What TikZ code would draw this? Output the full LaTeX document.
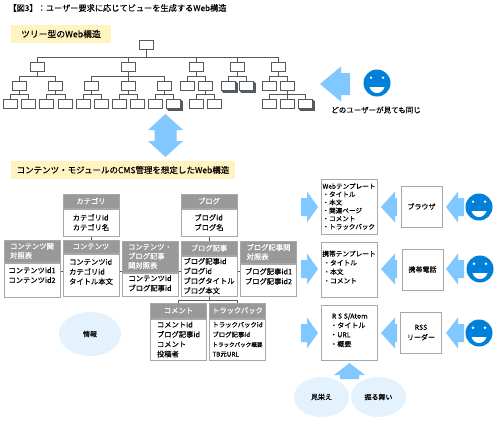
\documentclass[tikz,border=0pt]{standalone}
\usepackage{fontspec}
\setmainfont[FakeBold=0.2]{Noto Sans CJK JP}
\usetikzlibrary{calc,positioning,shapes.geometric,shadows}
\definecolor{myTreeGray}{HTML}{555A5E}
\definecolor{myFrameGray}{HTML}{A8A8A8}
\definecolor{myHeadGray}{HTML}{999999}
\definecolor{myArrowBlue}{HTML}{80C8FF}
\definecolor{mySmileBlue}{HTML}{0080D8}
\definecolor{myCloud}{HTML}{E3F2FD}
\definecolor{myBanner}{HTML}{FFF3C0}
\tikzset{
myTree/.style={
	rectangle,draw=myTreeGray,fill=white,line width=0.9pt,
	inner sep=0pt,minimum width=14pt,minimum height=9pt
}
, myStack/.style={
	myTree,
	double copy shadow={shadow xshift=1.3pt,shadow yshift=-1.3pt,draw=myTreeGray,fill=white}
}
, myBanner/.style={
	rectangle,fill=myBanner,inner sep=0pt,minimum height=18pt,
	font=\fontsize{8.5}{10}\selectfont
}
, myHead/.style={
	rectangle,draw=myFrameGray,fill=myHeadGray,line width=1pt,
	inner sep=0pt,minimum width=56pt,text=white,align=left,
	font=\fontsize{7.3}{9.3}\selectfont
}
, myBody/.style={
	rectangle,draw=myFrameGray,fill=white,line width=1pt,
	inner sep=0pt,minimum width=56pt,align=left,
	font=\fontsize{7.3}{9.8}\selectfont
}
, myPage/.style={
	rectangle,draw=myFrameGray,fill=white,line width=1pt,
	inner sep=0pt,minimum width=56pt,minimum height=55pt,align=left,
	font=\fontsize{6.6}{8.1}\selectfont
}
, myDevice/.style={
	rectangle,draw=myFrameGray,fill=white,line width=1pt,
	inner sep=0pt,minimum width=41pt,minimum height=41pt,align=center,
	font=\fontsize{7}{10}\selectfont
}
, myCloud/.style={
	ellipse,fill=myCloud,inner sep=0pt,minimum width=55pt,minimum height=40pt,
	font=\fontsize{7}{9}\selectfont
}
, myLabel/.style={font=\fontsize{7.5}{9}\selectfont}
% link
, myLink/.style={draw=myTreeGray,line width=0.9pt}
% block arrows, tip at the origin
, pics/myBlock/.style n args={4}{code={
	\fill[myArrowBlue] (0,0) -- (-#2,-#4) -- (-#2,-#3) -- (-#1,-#3) -- (-#1,#3) -- (-#2,#3) -- (-#2,#4) -- cycle;
}}
, pics/myBothBlock/.style={code={
	\fill[myArrowBlue] (0,-22) -- (17.5,-6) -- (11,-6) -- (11,5) -- (17.5,5) -- (0,21) -- (-17.5,5) -- (-11,5) -- (-11,-6) -- (-17.5,-6) -- cycle;
}}
% face
, mySmile/.pic={
	\fill[mySmileBlue] (0,0) circle (13.5);
	\fill[white] (-6,-5.3) circle (1.3) (6,-5.3) circle (1.3);
	\fill[white] (-7.5,4) .. controls (-5,12) and (5,12) .. (7.5,4) -- cycle;
}
}
\begin{document}
\begin{tikzpicture}[x=1pt,y=-1pt]
	\useasboundingbox (0,0) rectangle (498,421);
	% titles
	\node[anchor=west,font=\fontsize{8.2}{10}\selectfont] (Title) at (5,8) {【図3】：ユーザー要求に応じてビューを生成するWeb構造};
	\node[myBanner,minimum width=100pt,font=\fontsize{8.8}{10}\selectfont] (TreeBanner) at (61,34) {ツリー型のWeb構造};
	\node[myBanner,minimum width=224pt] (CmsBanner) at (123,170) {コンテンツ・モジュールのCMS管理を想定したWeb構造};

	% tree nodes
	\node[myTree] (Root) at (146.5,45) {};
	\node[myTree] (A) at (37.5,66.5) {};
	\node[myTree] (B) at (128,66.5) {};
	\node[myTree] (C) at (196,66.5) {};
	\node[myTree] (D) at (237,66.5) {};
	\node[myTree] (E) at (278,66.5) {};
	\node[myTree] (A1) at (19.5,85.5) {};
	\node[myTree] (A2) at (55.5,85.5) {};
	\node[myTree] (B1) at (91.5,85.5) {};
	\node[myTree] (B2) at (128,85.5) {};
	\node[myTree] (B3) at (164.5,85.5) {};
	\node[myTree] (C1) at (187.5,85.5) {};
	\node[myTree] (C2) at (205.5,85.5) {};
	\node[myStack] (D1) at (228,85.5) {};
	\node[myStack] (D2) at (246,85.5) {};
	\node[myTree] (E1) at (269.5,85.5) {};
	\node[myTree] (E2) at (287.5,85.5) {};
	\node[myTree] (A11) at (10,103.5) {};
	\node[myTree] (A12) at (28.5,103.5) {};
	\node[myTree] (A21) at (46,103.5) {};
	\node[myTree] (A22) at (65,103.5) {};
	\node[myTree] (B11) at (83,103.5) {};
	\node[myTree] (B12) at (101,103.5) {};
	\node[myTree] (B21) at (119,103.5) {};
	\node[myTree] (B22) at (137,103.5) {};
	\node[myTree] (B31) at (155,103.5) {};
	\node[myStack] (B32) at (173,103.5) {};
	\node[myTree] (C21) at (196,103.5) {};
	\node[myTree] (C22) at (214,103.5) {};
	\node[myTree] (E21) at (269,103.5) {};
	\node[myTree] (E22) at (287.5,103.5) {};
	\node[myStack] (E23) at (305,103.5) {};
	% tree links
	\draw[myLink] (Root.south) -- ++(0,7) -| (A.north) (Root.south) -- ++(0,7) -| (B.north) (Root.south) -- ++(0,7) -| (C.north) (Root.south) -- ++(0,7) -| (D.north) (Root.south) -- ++(0,7) -| (E.north);
	\draw[myLink] (A.south) -- ++(0,5) -| (A1.north) (A.south) -- ++(0,5) -| (A2.north);
	\draw[myLink] (B.south) -- (B2.north) (B.south) -- ++(0,5) -| (B1.north) (B.south) -- ++(0,5) -| (B3.north);
	\draw[myLink] (C.south) -- ++(0,5) -| (C1.north) (C.south) -- ++(0,5) -| (C2.north);
	\draw[myLink] (D.south) -- ++(0,5) -| (D1.north) (D.south) -- ++(0,5) -| (D2.north);
	\draw[myLink] (E.south) -- ++(0,5) -| (E1.north) (E.south) -- ++(0,5) -| (E2.north);
	\draw[myLink] (A1.south) -- ++(0,4) -| (A11.north) (A1.south) -- ++(0,4) -| (A12.north);
	\draw[myLink] (A2.south) -- ++(0,4) -| (A21.north) (A2.south) -- ++(0,4) -| (A22.north);
	\draw[myLink] (B1.south) -- ++(0,4) -| (B11.north) (B1.south) -- ++(0,4) -| (B12.north);
	\draw[myLink] (B2.south) -- ++(0,4) -| (B21.north) (B2.south) -- ++(0,4) -| (B22.north);
	\draw[myLink] (B3.south) -- ++(0,4) -| (B31.north) (B3.south) -- ++(0,4) -| (B32.north);
	\draw[myLink] (C2.south) -- ++(0,4) -| (C21.north) (C2.south) -- ++(0,4) -| (C22.north);
	\draw[myLink] (E2.south) -- ++(0,4) -| (E21.north) (E2.south) -- (E22.north) (E2.south) -- ++(0,4) -| (E23.north);

	% arrows around the tree
	\pic at (165.5,136) {myBothBlock};
	\pic[rotate=180] at (320,84) {myBlock={30}{21}{11}{17.5}};
	\pic at (377,83) {mySmile};
	\node[myLabel] (Same) at (376,110) {どのユーザーが見ても同じ};

	% tables
	\node[myHead,minimum height=14pt] (CategoryHead) at (91,201) {カテゴリ};
	\node[myBody,minimum height=27pt,below=0pt of CategoryHead] (Category) {カテゴリid\\カテゴリ名};
	\node[myHead,minimum height=14pt] (BlogHead) at (209,201) {ブログ};
	\node[myBody,minimum height=27pt,below=0pt of BlogHead] (Blog) {ブログid\\ブログ名};
	\node[myHead,minimum height=22pt] (ContentRelHead) at (32,251) {コンテンツ関\\対照表};
	\node[myBody,minimum height=34pt,below=0pt of ContentRelHead] (ContentRel) {コンテンツid1\\コンテンツid2\\};
	\node[myHead,minimum height=13pt] (ContentHead) at (91,246.5) {コンテンツ};
	\node[myBody,minimum height=42pt,below=0pt of ContentHead] (Content) {コンテンツid\\カテゴリid\\タイトル本文\\[-3pt]};
	\node[myHead,minimum height=31pt] (ContentBlogHead) at (150,256.5) {コンテンツ・\\ブログ記事\\関対照表};
	\node[myBody,minimum height=23pt,below=0pt of ContentBlogHead] (ContentBlog) {コンテンツid\\ブログ記事id\\[-7pt]};
	\node[myHead,minimum height=22pt] (ArticleRelHead) at (268.5,252) {ブログ記事関\\対照表};
	\node[myBody,minimum height=32pt,below=0pt of ArticleRelHead] (ArticleRel) {ブログ記事id1\\ブログ記事id2\\[-2pt]};
	\node[myHead,minimum height=14pt] (ArticleHead) at (209,248) {ブログ記事};
	\node[myBody,minimum height=40pt,below=0pt of ArticleHead] (Article) {ブログ記事id\\ブログid\\ブログタイトル\\ブログ本文};
	\node[myHead,minimum height=15pt] (CommentHead) at (178.5,310.5) {コメント};
	\node[myBody,minimum height=41pt,below=0pt of CommentHead] (Comment) {コメントid\\ブログ記事id\\コメント\\投稿者};
	\node[myHead,minimum height=15pt] (TrackbackHead) at (237.5,310.5) {トラックバック};
	\node[myBody,minimum height=41pt,below=0pt of TrackbackHead,font=\fontsize{6.4}{9.8}\selectfont] (Trackback) {トラックバックid\\ブログ記事id\\{\fontsize{5.6}{9.8}\selectfont トラックバック概要}\\TB元URL};
	\node[myCloud,minimum width=62pt,minimum height=44pt] (Info) at (90,334) {情報};
	% table links
	\draw[myLink] (Category.south) -- (ContentHead.north);
	\draw[myLink] (Blog.south) -- (ArticleHead.north);
	\draw[myLink] ($(ContentRel.east)+(0,-9)$) -- ($(Content.west)+(0,-4)$);
	\draw[myLink] ($(Content.east)+(0,-4)$) -- ($(ContentBlog.west)+(0,-13.5)$);
	\draw[myLink] ($(ContentBlog.east)+(0,-13.5)$) -- ($(Article.west)+(0,-5)$);
	\draw[myLink] ($(Article.east)+(0,-5)$) -- ($(ArticleRel.west)+(0,-9)$);
	\draw[myLink] (Article.south) -- ++(0,4) -| (CommentHead.north) (Article.south) -- ++(0,4) -| (TrackbackHead.north);

	% templates
	\node[myPage] (WebPage) at (349,206.5) {Webテンプレート\\ ・タイトル\\ ・本文\\ ・関連ページ\\ ・コメント\\ ・トラックバック};
	\node[myPage,font=\fontsize{6.7}{9}\selectfont] (MobilePage) at (349,269.5) {携帯テンプレート\\ \,・タイトル\\ \,・本文\\ \,・コメント\\[-4pt]};
	\node[myPage,font=\fontsize{7}{9.3}\selectfont] (RssPage) at (349,333) {\ R S S/Atom\\ ・タイトル\\ ・URL\\ ・概要\\[-3pt]};
	% devices
	\node[myDevice] (Browser) at (421.5,206.5) {ブラウザ};
	\node[myDevice] (Mobile) at (422.5,269.5) {携帯電話};
	\node[myDevice] (Reader) at (421,332.5) {RSS\\リーダー};
	% block arrows
	\pic at (318,207) {myBlock={17}{11}{9}{15.5}};
	\pic at (318,269) {myBlock={17}{11}{9}{15.5}};
	\pic at (318,333) {myBlock={17}{11}{9}{15.5}};
	\pic[rotate=180] at (381,207) {myBlock={16}{14}{9}{15.5}};
	\pic[rotate=180] at (381,269) {myBlock={16}{14}{9}{15.5}};
	\pic[rotate=180] at (381,333) {myBlock={16}{14}{9}{15.5}};
	\pic[rotate=180] at (446,207) {myBlock={18}{12}{9}{15.5}};
	\pic[rotate=180] at (446,269) {myBlock={18}{12}{9}{15.5}};
	\pic[rotate=180] at (446,333) {myBlock={18}{12}{9}{15.5}};
	\pic[rotate=90] at (349.5,363) {myBlock={16}{12}{9.5}{15.5}};
	% faces
	\pic at (479,207) {mySmile};
	\pic at (480,269) {mySmile};
	\pic at (479,333) {mySmile};
	% look and feel
	\node[myCloud] (Looks) at (321.5,397) {見栄え};
	\node[myCloud] (Behavior) at (378.5,397) {振る舞い};
\end{tikzpicture}
\end{document}
